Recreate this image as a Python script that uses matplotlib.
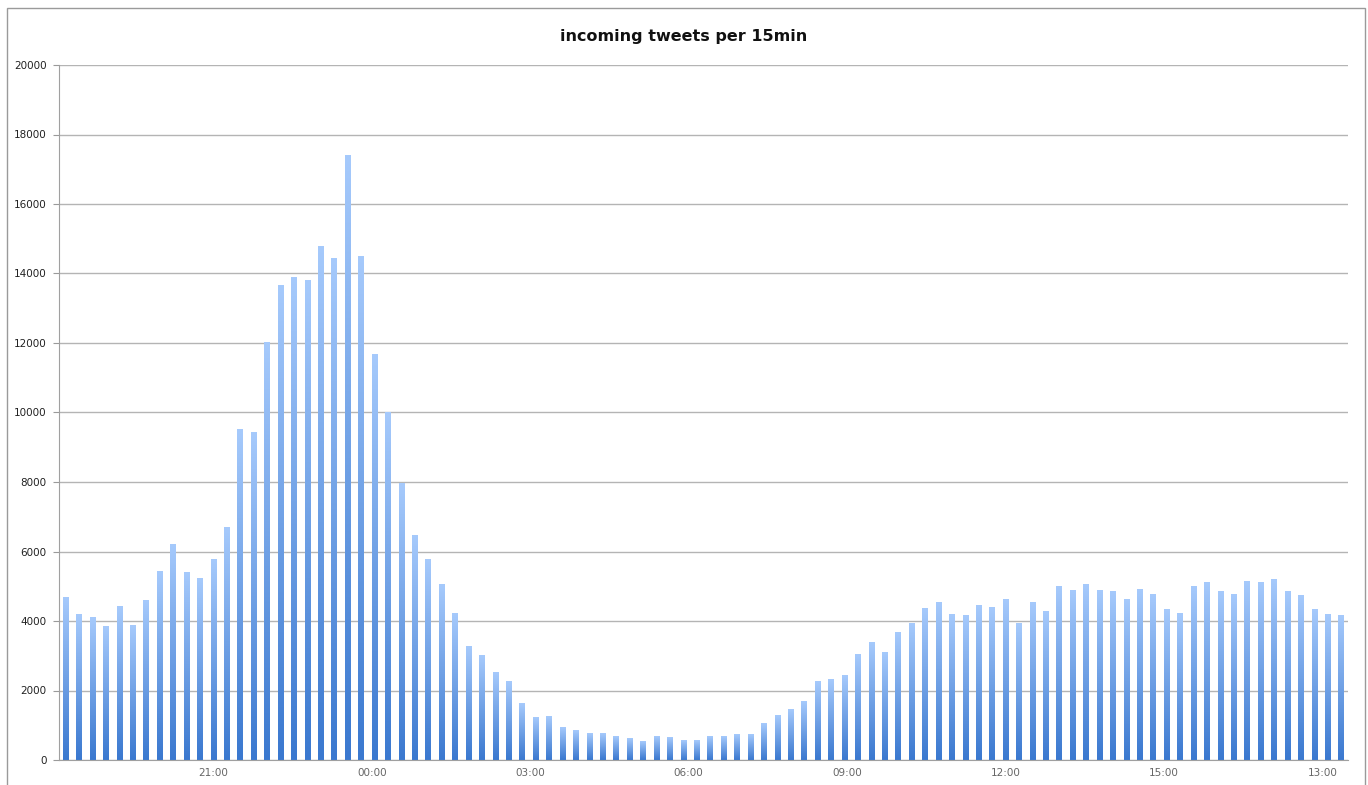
import matplotlib
matplotlib.use('Agg')
import matplotlib.pyplot as plt
import numpy as np
from matplotlib.colors import LinearSegmentedColormap
from matplotlib.patches import Rectangle


TITLE = 'incoming tweets per 15min'

# Tweets counted per 15 minute slot.
tweets = [
    4680, 4200, 4090, 3840, 4420, 3860, 4600, 5420, 6210, 5400,
    5210, 5780, 6700, 9510, 9430, 12010, 13650, 13890, 13800, 14770,
    14430, 17390, 14490, 11670, 10000, 7970, 6460, 5780, 5050, 4230,
    3270, 3000, 2530, 2260, 1620, 1210, 1250, 930, 860, 760,
    760, 690, 620, 530, 690, 650, 550, 550, 670, 690,
    720, 720, 1040, 1270, 1450, 1670, 2260, 2330, 2440, 3050,
    3370, 3100, 3680, 3940, 4350, 4530, 4200, 4170, 4450, 4400,
    4620, 3930, 4520, 4270, 4990, 4870, 5050, 4870, 4860, 4610,
    4910, 4760, 4330, 4210, 5000, 5100, 4860, 4750, 5130, 5110,
    5200, 4860, 4720, 4340, 4200, 4150,
]

time_labels = ['21:00', '00:00', '03:00', '06:00', '09:00', '12:00',
               '15:00', '13:00']

y_ticks = [0, 2000, 4000, 6000, 8000, 10000, 12000, 14000, 16000, 18000,
           20000]


def _gradient_bars(ax, values):
    """Bars with a light-top / dark-bottom vertical gradient."""
    cmap = LinearSegmentedColormap.from_list('bar_grad',
                                             ['#3a78cf', '#a6cafc'])
    grad = np.linspace(0, 1, 256).reshape(-1, 1)

    xs = np.arange(len(values))
    bars = ax.bar(xs, values, width=0.42, color='none', edgecolor='none')
    for bar in bars:
        x0 = bar.get_x()
        x1 = x0 + bar.get_width()
        h = bar.get_height()
        ax.imshow(grad, extent=[x0, x1, 0, h], origin='lower',
                  aspect='auto', cmap=cmap, zorder=2, interpolation='bilinear')
    return bars


def main():
    fig = plt.figure(figsize=(13.68, 7.85), dpi=100)
    ax = fig.add_axes([59 / 1368, 1 - 760 / 785,
                       (1348 - 59) / 1368, (760 - 65) / 785])

    _gradient_bars(ax, tweets)

    ax.set_xlim(-0.5, len(tweets) - 0.5)
    ax.set_ylim(0, 20000)

    ax.set_yticks(y_ticks)
    ax.set_yticklabels([str(v) for v in y_ticks])
    ax.tick_params(axis='y', length=4, width=0.8, color='#9a9a9a', pad=5,
                   labelsize=7.5, labelcolor='#222222')

    # The time axis drifts a little against the slots, as in the original.
    tick_pos = 11 + np.arange(len(time_labels)) * 11.8
    ax.set_xticks(tick_pos)
    ax.set_xticklabels(time_labels)
    ax.tick_params(axis='x', length=0, pad=6, labelsize=7.5,
                   labelcolor='#666666')

    ax.set_axisbelow(True)
    ax.yaxis.grid(True, color='#b4b4b4', linewidth=1.0)
    for side in ['top', 'right']:
        ax.spines[side].set_visible(False)
    ax.spines['left'].set_color('#a0a0a0')
    ax.spines['bottom'].set_color('#a0a0a0')

    fig.text(0.5, 1 - 37 / 785, TITLE, ha='center', va='center',
             fontsize=11.5, fontweight='bold', color='#111111')

    # Thin frame round the whole chart.
    frame = Rectangle((7 / 1368, -0.02), (1365 - 7) / 1368,
                      1.02 - 8 / 785, transform=fig.transFigure,
                      fill=False, edgecolor='#9a9a9a', linewidth=1.0)
    fig.patches.append(frame)

    fig.savefig('out.png', dpi=100)
    plt.close(fig)


if __name__ == '__main__':
    main()
